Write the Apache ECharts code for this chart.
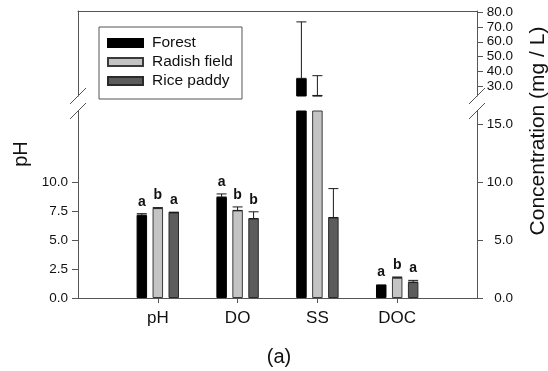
<!DOCTYPE html>
<html>
<head>
<meta charset="utf-8">
<script src="https://cdn.jsdelivr.net/npm/echarts@6/dist/echarts.min.js"></script>
<style>html,body{margin:0;padding:0;background:#fff}#c{width:548px;height:371px}</style>
</head>
<body>
<div id="c"></div>
<script>
// ---- data ----
const categories = ['pH', 'DO', 'SS', 'DOC'];
const seriesNames = ['Forest', 'Radish field', 'Rice paddy'];
const forestMean = [7.15, 8.71, 35.2, 1.17];
const forestErr  = [0.12, 0.26, 38.3, 0];
const radishMean = [7.75, 7.55, 23.6, 1.75];
const radishErr  = [0.04, 0.30, 13.4, 0.06];
const riceMean   = [7.37, 6.85, 6.94, 1.37];
const riceErr    = [0.03, 0.58, 2.49, 0.15];
const forestLetters = ['a', 'a', '', 'a'];
const radishLetters = ['b', 'b', '', 'b'];
const riceLetters   = ['a', 'b', '', 'a'];
const leftTicks = [0, 2.5, 5, 7.5, 10];
const rightLowerTicks = [0, 5, 10, 15];
const rightUpperTicks = [30, 40, 50, 60, 70, 80];

// ---- layout / style ----
const FONT = 'Liberation Sans, Arial, sans-serif';
const AX = '#555';
const LOWER_MAX = 16.12;
const UPPER_MIN = 23.22, UPPER_MAX = 80.88;
const BAR_W = 10.5, BAR_STEP = 16;
const colors = ['#000000', '#c4c4c4', '#5c5c5c'];
const borders = ['#000000', '#3a3a3a', '#2a2a2a'];

const xCats = [''].concat(categories, ['']);
const means = [forestMean, radishMean, riceMean];
const errs = [forestErr, radishErr, riceErr];
const letters = [forestLetters, radishLetters, riceLetters];

const errItems = [];
for (let s = 0; s < 3; s++) {
  for (let i = 0; i < categories.length; i++) {
    errItems.push([i + 1, s, means[s][i], errs[s][i], letters[s][i]]);
  }
}

function errRender(showLetters) {
  return function (params, api) {
    const it = errItems[params.dataIndex];
    const cs = params.coordSys;
    if (it[3] <= 0 && !(showLetters && it[4])) return null;
    const base = api.coord([it[0], it[2]]);
    const topP = api.coord([it[0], it[2] + it[3]]);
    const x = base[0] + (it[1] - 1) * BAR_STEP;
    const children = [];
    const yMin = cs.y, yMax = cs.y + cs.height;
    let y0 = base[1], y1 = topP[1];
    const inRange = !(y0 < yMin || y1 > yMax);
    if (it[3] > 0 && inRange) {
      const st = {stroke: '#1a1a1a', lineWidth: 1};
      children.push({type: 'line', shape: {x1: x, y1: y0, x2: x, y2: y1}, style: st});
      children.push({type: 'line', shape: {x1: x - 5, y1: y1, x2: x + 5, y2: y1}, style: st});
      children.push({type: 'line', shape: {x1: x - 5, y1: y0, x2: x + 5, y2: y0}, style: st});
    }
    if (showLetters && it[4] && inRange) {
      children.push({type: 'text', style: {text: it[4], x: x, y: y1 - 12, align: 'center', verticalAlign: 'middle',
        font: 'bold 14px ' + FONT, fill: '#111'}});
    }
    return {type: 'group', children: children};
  };
}

const series = [];
for (let s = 0; s < 3; s++) {
  const style = {color: colors[s], borderColor: borders[s], borderWidth: 1};
  series.push({
    name: seriesNames[s], type: 'bar', xAxisIndex: 1, yAxisIndex: 2,
    barWidth: BAR_W, barGap: '52%', itemStyle: style, clip: true, silent: true,
    data: [null].concat(means[s], [null])
  });
  series.push({
    name: seriesNames[s], type: 'bar', xAxisIndex: 0, yAxisIndex: 0,
    barWidth: BAR_W, barGap: '52%', itemStyle: style, clip: true, silent: true,
    data: [null].concat(means[s].map(v => v > UPPER_MIN ? v : null), [null])
  });
}
series.push({type: 'custom', xAxisIndex: 1, yAxisIndex: 2, renderItem: errRender(true), data: errItems,
  encode: {x: 0, y: 2}, silent: true, z: 5});
series.push({type: 'custom', xAxisIndex: 0, yAxisIndex: 0, renderItem: errRender(false), data: errItems,
  encode: {x: 0, y: 2}, silent: true, z: 5});

const lineStyle = {color: AX, width: 1};
const tickLabel = {fontSize: 13.5, fontFamily: FONT, color: '#111', formatter: v => Number(v).toFixed(1)};

const option = {
  animation: false,
  backgroundColor: '#fff',
  textStyle: {fontFamily: FONT},
  grid: [
    {left: 78, right: 71, top: 11, height: 85},
    {left: 78, right: 71, top: 111, height: 187}
  ],
  legend: {
    data: seriesNames, orient: 'vertical', left: 99, top: 27,
    itemWidth: 35, itemHeight: 8, itemGap: 3,
    icon: 'rect',
    padding: [8, 9, 10, 8],
    borderColor: '#555', borderWidth: 1, borderRadius: 0,
    textStyle: {fontSize: 15.5, fontFamily: FONT, color: '#111', lineHeight: 16, padding: [0, 0, 0, 4]},
    selectedMode: false
  },
  xAxis: [
    {gridIndex: 0, type: 'category', data: xCats, boundaryGap: false, position: 'top',
      axisLine: {show: true, lineStyle: lineStyle}, axisTick: {show: false}, axisLabel: {show: false}, splitLine: {show: false}},
    {gridIndex: 1, type: 'category', data: xCats, boundaryGap: false, position: 'bottom',
      axisLine: {show: true, onZero: false, lineStyle: lineStyle},
      axisTick: {show: true, length: 5, interval: (i) => i > 0 && i < xCats.length - 1, lineStyle: lineStyle},
      axisLabel: {interval: 0, fontSize: 17, margin: 12, color: '#111', fontFamily: FONT}, splitLine: {show: false}}
  ],
  yAxis: [
    {gridIndex: 0, type: 'value', position: 'left', min: UPPER_MIN, max: UPPER_MAX,
      axisLine: {show: true, onZero: false, lineStyle: lineStyle}, axisTick: {show: false}, axisLabel: {show: false}, splitLine: {show: false}},
    {gridIndex: 0, type: 'value', position: 'right', min: UPPER_MIN, max: UPPER_MAX,
      axisLine: {show: true, onZero: false, lineStyle: lineStyle},
      axisTick: {show: true, length: 6, customValues: rightUpperTicks, lineStyle: lineStyle},
      axisLabel: Object.assign({customValues: rightUpperTicks, align: 'right', margin: 36}, tickLabel),
      splitLine: {show: false}},
    {gridIndex: 1, type: 'value', position: 'left', min: 0, max: LOWER_MAX,
      axisLine: {show: true, onZero: false, lineStyle: lineStyle},
      axisTick: {show: true, length: 6, customValues: leftTicks, lineStyle: lineStyle},
      axisLabel: Object.assign({customValues: leftTicks, margin: 10}, tickLabel),
      splitLine: {show: false}},
    {gridIndex: 1, type: 'value', position: 'right', min: 0, max: LOWER_MAX,
      axisLine: {show: true, onZero: false, lineStyle: lineStyle},
      axisTick: {show: true, length: 6, customValues: rightLowerTicks, lineStyle: lineStyle},
      axisLabel: Object.assign({customValues: rightLowerTicks, align: 'right', margin: 36}, tickLabel),
      splitLine: {show: false}}
  ],
  graphic: [
    {type: 'line', shape: {x1: 70, y1: 104, x2: 86, y2: 88}, style: {stroke: AX, lineWidth: 1}},
    {type: 'line', shape: {x1: 70, y1: 119, x2: 86, y2: 103}, style: {stroke: AX, lineWidth: 1}},
    {type: 'line', shape: {x1: 469, y1: 104, x2: 485, y2: 88}, style: {stroke: AX, lineWidth: 1}},
    {type: 'line', shape: {x1: 469, y1: 119, x2: 485, y2: 103}, style: {stroke: AX, lineWidth: 1}},
    {type: 'text', x: 21, y: 154, rotation: Math.PI / 2,
      style: {text: 'pH', font: '20px ' + FONT, fill: '#111', align: 'center', verticalAlign: 'middle'}},
    {type: 'text', x: 538, y: 131, rotation: Math.PI / 2,
      style: {text: 'Concentration (mg / L)', font: '21px ' + FONT, fill: '#111', align: 'center', verticalAlign: 'middle'}},
    {type: 'text', x: 279, y: 357,
      style: {text: '(a)', font: '20px ' + FONT, fill: '#111', align: 'center', verticalAlign: 'middle'}}
  ],
  series: series
};

const chart = echarts.init(document.getElementById('c'), null, {renderer: 'canvas'});
chart.setOption(option);
</script>
</body>
</html>
